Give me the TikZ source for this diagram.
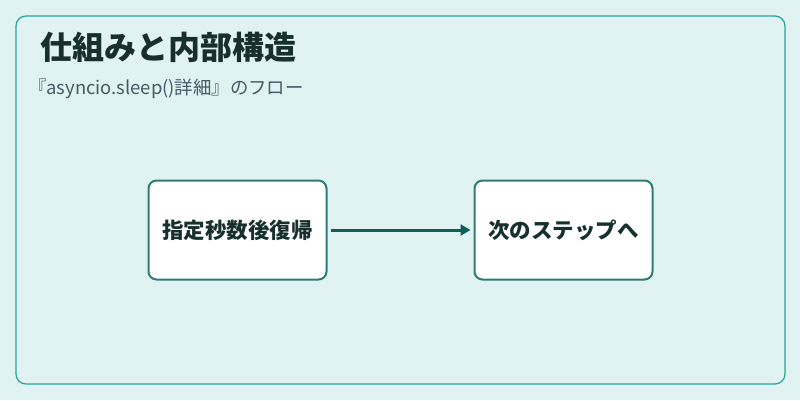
\documentclass[tikz,border=0pt]{standalone}
\usepackage{fontspec}
\setmainfont{Noto Sans CJK JP}
\usetikzlibrary{arrows.meta}
\definecolor{bg}{HTML}{E0F2F1}
\definecolor{teal}{HTML}{26A69A}
\definecolor{boxb}{HTML}{2E7D74}
\definecolor{arr}{HTML}{115E59}
\definecolor{txt}{HTML}{17302C}
\definecolor{sub}{HTML}{455A64}
\tikzset{stepbox/.style={draw=boxb,line width=2pt,fill=white,rounded corners=8pt,minimum width=178pt,minimum height=99pt,font=\fontsize{21.5}{24}\selectfont\bfseries,text=txt}}
\begin{document}
\begin{tikzpicture}[x=1pt,y=1pt]
\fill[bg] (0,0) rectangle (800,400);
\useasboundingbox (0,0) rectangle (800,400);
\draw[teal,line width=1.2pt,rounded corners=10pt] (16,16) rectangle (785,384);
\node[anchor=west,font=\fontsize{32}{36}\selectfont\bfseries,text=txt,inner sep=0pt] (title) at (40,353) {仕組みと内部構造};
\node[anchor=west,font=\fontsize{18.4}{20}\selectfont,text=sub,inner sep=0pt] (subt) at (28,311) {『asyncio.sleep()詳細』のフロー};
\node[stepbox] (a) at (237.5,170) {指定秒数後復帰};
\node[stepbox] (b) at (563.5,170) {次のステップへ};
\draw[arr,line width=3pt,-{Triangle[length=10pt,width=11pt]}] (a.east)++(3,0) -- ([xshift=-3pt]b.west);
\end{tikzpicture}
\end{document}
